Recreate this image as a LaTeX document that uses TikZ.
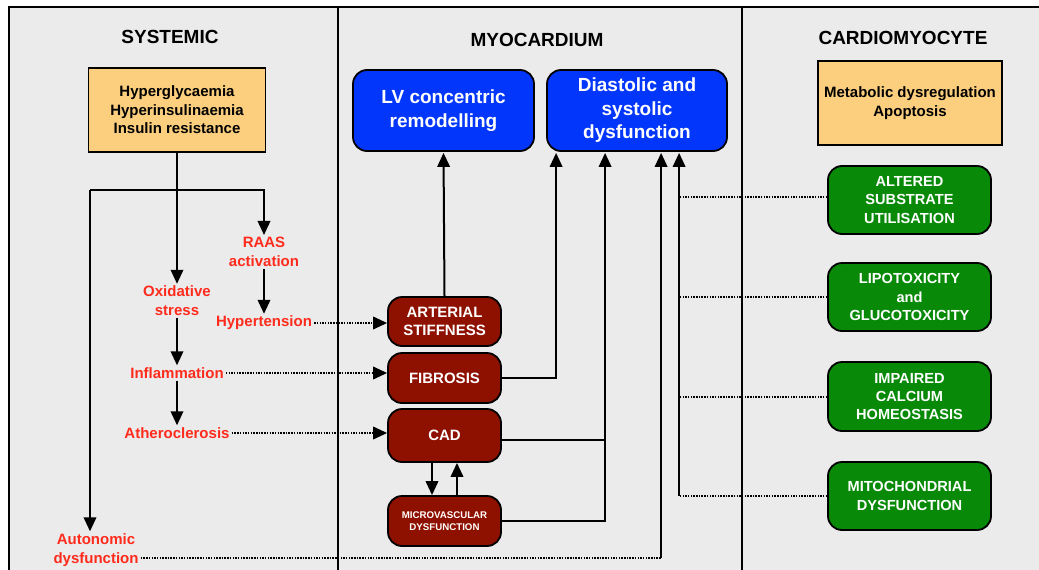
\documentclass[tikz,border=0pt]{standalone}
\usepackage{fontspec}
\setmainfont{Liberation Sans}
\usetikzlibrary{arrows.meta,calc}
\definecolor{bgc}{HTML}{EBEBEB}
\definecolor{yel}{HTML}{FCCF7E}
\definecolor{blu}{HTML}{0336FB}
\definecolor{rbox}{HTML}{8E1100}
\definecolor{gbox}{HTML}{088A08}
\definecolor{rtxt}{HTML}{FF2B1C}
\tikzset{
  ttl/.style={font=\bfseries\fontsize{19}{22}\selectfont, inner sep=0pt},
  ybox/.style={draw=black, line width=1.8pt, fill=yel, align=center,
    font=\bfseries\fontsize{15}{18.5}\selectfont},
  bbox/.style={draw=black, line width=1.8pt, fill=blu, rounded corners=14pt, align=center,
    text=white, font=\bfseries\fontsize{19}{23.5}\selectfont, minimum width=180, minimum height=81},
  rrbox/.style={draw=black, line width=1.8pt, fill=rbox, rounded corners=14pt, align=center,
    text=white, font=\bfseries\fontsize{15}{18.3}\selectfont, minimum width=113},
  gbx/.style={draw=black, line width=1.8pt, fill=gbox, rounded corners=14pt, align=center,
    text=white, font=\bfseries\fontsize{14.6}{18.3}\selectfont, minimum width=163, minimum height=68},
  lbl/.style={text=rtxt, align=center, inner sep=2pt,
    font=\bfseries\fontsize{15}{19}\selectfont},
  tip/.style={-{Triangle[length=14pt,width=12.5pt]}},
  arr/.style={line width=2pt, tip},
  ln/.style={line width=2pt},
  dotl/.style={line width=2pt, dash pattern=on 1.5pt off 1.2pt},
  dotarr/.style={dotl, tip},
}
\begin{document}
\begin{tikzpicture}[x=1pt,y=-1pt]
\useasboundingbox (0,0) rectangle (1039,570);
\clip (0,0) rectangle (1039,570);
\fill[white] (0,0) rectangle (1039,570);
\filldraw[fill=bgc, draw=black, line width=2pt] (9,7) rectangle (1070,600);
\draw[line width=2pt] (338,7) -- (338,600);
\draw[line width=2pt] (742,7) -- (742,600);

% titles
\node[ttl] (t1) at (170,37) {SYSTEMIC};
\node[ttl] (t2) at (537,40) {MYOCARDIUM};
\node[ttl] (t3) at (903,38) {CARDIOMYOCYTE};

% systemic
\node[ybox, minimum width=177, minimum height=84] (hyp) at (177,110) {Hyperglycaemia\\Hyperinsulinaemia\\Insulin resistance};
\node[lbl] (raas) at (264,252) {RAAS\\activation};
\node[lbl] (oxi) at (177,301) {Oxidative\\stress};
\node[lbl] (hyt) at (264,323) {Hypertension};
\node[lbl] (inf) at (177,373) {Inflammation};
\node[lbl] (ath) at (177,433) {Atheroclerosis};
\node[lbl] (aut) at (96,550) {Autonomic\\dysfunction};

% myocardium
\node[bbox, minimum width=181] (lv) at (443.5,110.5) {LV concentric\\remodelling};
\node[bbox] (dia) at (637,110.5) {Diastolic and\\systolic\\dysfunction};
\node[rrbox, minimum height=49] (art) at (444.5,321.5) {ARTERIAL\\STIFFNESS};
\node[rrbox, minimum height=50] (fib) at (444.5,378) {FIBROSIS};
\node[rrbox, minimum height=53] (cad) at (444.5,435.5) {CAD};
\node[rrbox, minimum height=50, font=\bfseries\fontsize{9.7}{12.3}\selectfont] (mic) at (444.5,521) {MICROVASCULAR\\DYSFUNCTION};

% cardiomyocyte
\node[ybox, minimum width=184, minimum height=84] (met) at (910,103) {Metabolic dysregulation\\Apoptosis};
\node[gbx] (alt) at (909.5,200) {ALTERED\\SUBSTRATE\\UTILISATION};
\node[gbx] (lip) at (909.5,297) {LIPOTOXICITY\\and\\GLUCOTOXICITY};
\node[gbx, minimum height=69] (imp) at (909.5,396.5) {IMPAIRED\\CALCIUM\\HOMEOSTASIS};
\node[gbx] (mit) at (909.5,496) {MITOCHONDRIAL\\DYSFUNCTION};

% systemic connectors
\coordinate (jl) at (90,190);
\coordinate (jr) at (264,190);
\draw[arr] (hyp.south) -- (oxi.north);
\draw[arr] (jl) -- (jr) -- (raas.north);
\draw[arr] (jl) -- (jl |- aut.north);
\draw[arr] (raas.south) -- (hyt.north);
\draw[arr] (oxi.south) -- (inf.north);
\draw[arr] (inf.south) -- (ath.north);

% dotted to myocardium
\draw[dotarr] (hyt.east) -- (art.west |- hyt.east);
\draw[dotarr] (inf.east) -- (fib.west |- inf.east);
\draw[dotarr] (ath.east) -- (cad.west |- ath.east);
\coordinate (ae) at ([yshift=-8pt]aut.east);
\coordinate (v3) at ($(dia.south west)+(115,0)$);
\draw[dotl] (ae) -- (v3 |- ae) coordinate (c3);
\draw[arr, shorten >=1pt] (c3) -- (v3);

% myocardium connectors
\draw[arr, shorten >=1pt] (art.north) -- (lv.south);
\coordinate (v1) at ($(dia.south west)+(10,0)$);
\coordinate (v2) at ($(dia.south west)+(59,0)$);
\coordinate (v4) at ($(dia.south west)+(133,0)$);
\coordinate (ce) at ([yshift=-4.5pt]cad.east);
\draw[arr, shorten >=1pt] (fib.east) -| (v1);
\draw[arr, shorten >=1pt] (ce) -| (v2);
\draw[ln] (mic.east) -| (v2 |- ce);
\draw[arr] ([xshift=-12.5pt]cad.south) -- ([xshift=-12.5pt]mic.north);
\draw[arr] ([xshift=12.5pt]mic.north) -- ([xshift=12.5pt]cad.south);

% cardiomyocyte connectors
\coordinate (aw) at ([yshift=3pt]alt.west);
\draw[dotl] (aw) -- (v4 |- aw);
\draw[dotl] (lip.west) -- (v4 |- lip.west);
\draw[dotl] (imp.west) -- (v4 |- imp.west);
\draw[dotl] (mit.west) -- (v4 |- mit.west) coordinate (c4);
\draw[arr, shorten >=1pt] (c4) -- (v4);
\end{tikzpicture}
\end{document}
